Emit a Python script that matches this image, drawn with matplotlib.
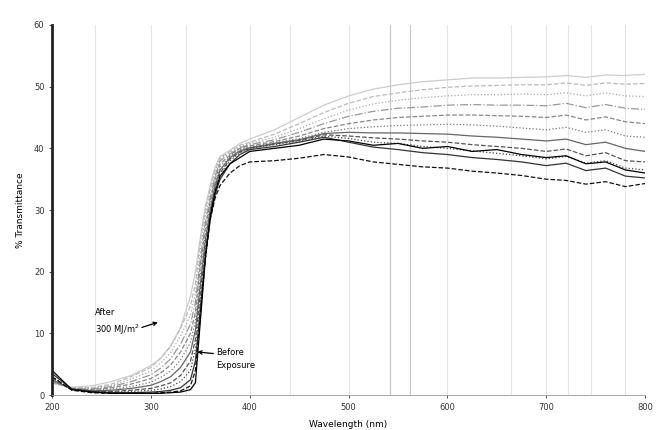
import numpy as np
from matplotlib import pyplot as plt

plt.rcParams['font.family'] = 'DejaVu Sans'

# wavelength grid (nm) shared by all spectra
wl = [200, 220, 240, 260, 280, 300, 310, 320, 330, 340, 345, 350, 355, 360, 365, 370, 380, 390,
      400, 425, 450, 475, 500, 525, 550, 575, 600, 625, 650, 675, 700, 720, 740, 760, 780, 800]

# % transmittance, before exposure first, then increasing exposure
t_before = [4.0, 0.9, 0.5, 0.3, 0.3, 0.3, 0.3, 0.4, 0.5, 0.9, 2.0, 12.0, 22.0, 29.0, 33.0, 35.5, 37.5, 38.5,
            39.5, 40.0, 40.5, 41.5, 41.2, 40.5, 40.8, 40.0, 40.3, 39.5, 39.8, 39.0, 38.5, 38.8, 37.5, 37.8, 36.5, 36.0]
t_1 = [3.0, 0.8, 0.4, 0.3, 0.3, 0.3, 0.4, 0.5, 0.7, 1.5, 4.0, 13.0, 22.0, 28.5, 32.0, 34.0, 36.0, 37.2,
       37.8, 38.0, 38.4, 39.0, 38.6, 37.8, 37.4, 37.0, 36.8, 36.3, 36.0, 35.6, 35.0, 34.8, 34.2, 34.6, 33.8, 34.3]
t_2 = [3.5, 1.0, 0.6, 0.4, 0.4, 0.5, 0.6, 0.8, 1.2, 2.5, 5.5, 14.0, 22.5, 28.5, 32.5, 35.0, 37.5, 39.0,
       39.8, 40.3, 41.0, 41.8, 41.0, 40.2, 39.8, 39.3, 39.0, 38.5, 38.2, 37.8, 37.2, 37.6, 36.4, 36.8, 35.5, 35.2]
t_3 = [3.0, 0.9, 0.6, 0.5, 0.6, 0.8, 1.0, 1.4, 2.2, 4.0, 7.5, 15.0, 23.0, 29.0, 33.0, 35.5, 38.0, 39.3,
       40.0, 40.6, 41.2, 42.0, 41.6, 41.0, 40.8, 40.3, 40.0, 39.6, 39.2, 38.8, 38.3, 38.7, 37.6, 38.0, 36.8, 36.5]
t_4 = [2.8, 0.9, 0.6, 0.6, 0.8, 1.1, 1.5, 2.0, 3.2, 5.5, 9.0, 16.5, 24.0, 29.5, 33.5, 36.0, 38.3, 39.4,
       40.0, 40.7, 41.3, 42.2, 42.0, 41.7, 41.5, 41.2, 41.0, 40.6, 40.3, 40.0, 39.5, 39.9, 38.8, 39.3, 38.0, 37.8]
t_5 = [2.5, 1.0, 0.7, 0.8, 1.1, 1.6, 2.2, 3.0, 4.5, 7.0, 10.5, 18.0, 25.0, 30.0, 34.0, 36.5, 38.5, 39.6,
       40.1, 40.8, 41.4, 42.4, 42.6, 42.5, 42.5, 42.4, 42.3, 42.0, 41.8, 41.5, 41.2, 41.5, 40.6, 41.0, 40.0, 39.5]
t_6 = [2.5, 1.0, 0.8, 1.0, 1.4, 2.1, 2.9, 3.9, 5.7, 8.5, 12.0, 19.5, 26.0, 31.0, 34.5, 37.0, 38.7, 39.8,
       40.2, 40.9, 41.6, 42.6, 43.2, 43.5, 43.7, 43.8, 43.9, 43.8, 43.6, 43.3, 43.0, 43.4, 42.6, 43.0, 42.0, 41.8]
t_7 = [2.3, 1.0, 0.9, 1.2, 1.8, 2.7, 3.6, 4.9, 7.0, 10.0, 13.5, 21.0, 27.0, 31.5, 35.0, 37.5, 38.9, 40.0,
       40.4, 41.1, 42.0, 43.2, 44.0, 44.6, 45.0, 45.2, 45.4, 45.4, 45.3, 45.2, 45.0, 45.4, 44.6, 45.1, 44.3, 44.0]
t_8 = [2.2, 1.1, 1.0, 1.4, 2.2, 3.3, 4.4, 5.9, 8.3, 11.5, 15.0, 22.0, 28.0, 32.0, 35.5, 38.0, 39.1, 40.1,
       40.6, 41.4, 42.6, 44.0, 45.2, 46.0, 46.5, 46.7, 47.0, 47.1, 47.0, 47.0, 46.9, 47.3, 46.6, 47.1, 46.5, 46.3]
t_9 = [2.0, 1.1, 1.1, 1.6, 2.6, 3.9, 5.2, 6.9, 9.6, 13.0, 16.5, 23.5, 29.0, 32.8, 36.0, 38.3, 39.3, 40.3,
       40.8, 41.8, 43.2, 44.8, 46.2, 47.2, 47.8, 48.2, 48.5, 48.7, 48.7, 48.8, 48.7, 49.0, 48.5, 49.0, 48.5, 48.4]
t_10 = [2.0, 1.2, 1.2, 1.8, 3.0, 4.5, 6.0, 7.9, 10.8, 14.5, 18.0, 25.0, 30.0, 33.5, 36.5, 38.5, 39.5, 40.5,
        41.0, 42.3, 44.0, 45.8, 47.3, 48.4, 49.0, 49.5, 49.9, 50.1, 50.2, 50.3, 50.3, 50.6, 50.2, 50.6, 50.4, 50.5]
t_11 = [2.0, 1.3, 1.5, 2.2, 3.2, 4.8, 6.0, 8.0, 11.0, 16.0, 20.0, 25.5, 30.5, 34.0, 37.0, 38.7, 39.7, 40.8,
        41.5, 43.0, 45.0, 47.0, 48.5, 49.6, 50.3, 50.8, 51.1, 51.4, 51.4, 51.5, 51.6, 51.8, 51.5, 51.9, 51.8, 52.0]

spectra = [t_before, t_1, t_2, t_3, t_4, t_5, t_6, t_7, t_8, t_9, t_10, t_11]
shades = ['#000000', '#111111', '#333333', '#444444', '#555555', '#666666',
          '#777777', '#888888', '#999999', '#aaaaaa', '#bbbbbb', '#cccccc']
styles = ['-', '--', '-', ':', '--', '-', ':', '--', '-.', ':', '--', '-']

# faint vertical lines in the original figure
vlines = [243, 300, 335, 400, 441, 500, 600, 664, 700, 722, 745, 780]
vlines_dark = [542, 562]

fig = plt.figure(figsize=(6.59, 4.30), dpi=100)
ax = fig.add_axes([0.079, 0.081, 0.900, 0.861])

for v in vlines:
    ax.axvline(v, color='#e4e4e4', lw=0.8, zorder=0)
for v in vlines_dark:
    ax.axvline(v, color='#c8c8c8', lw=0.9, zorder=0)

for t, c, s in zip(spectra[::-1], shades[::-1], styles[::-1]):
    ax.plot(wl, t, color=c, ls=s, lw=0.9)

ax.set_xlim(200, 800)
ax.set_ylim(0, 60)
ax.set_xticks([200, 300, 400, 500, 600, 700, 800])
ax.set_yticks([0, 10, 20, 30, 40, 50, 60])
ax.tick_params(labelsize=6, length=2, width=0.6, colors='#333333')
ax.spines['top'].set_visible(False)
ax.spines['right'].set_visible(False)
ax.spines['left'].set_linewidth(2)
ax.spines['left'].set_color('#222222')
ax.spines['bottom'].set_linewidth(0.6)
ax.spines['bottom'].set_color('#999999')
ax.set_xlabel('Wavelength (nm)', fontsize=6.5, labelpad=6)
ax.set_ylabel('% Transmittance', fontsize=6.5, labelpad=6)

ax.annotate('After\n300 MJ/m$^2$', xy=(307, 11.8), xytext=(243, 11.8),
            fontsize=6, va='center', ha='left', linespacing=1.6,
            arrowprops=dict(arrowstyle='->', color='black', lw=0.9,
                            shrinkA=0, shrinkB=0, relpos=(1.0, 0.3)))
ax.annotate('Before\nExposure', xy=(347, 7.0), xytext=(366, 5.8),
            fontsize=6, va='center', ha='left', linespacing=1.6,
            arrowprops=dict(arrowstyle='->', color='black', lw=0.9,
                            shrinkA=0, shrinkB=0, relpos=(0.0, 0.75)))

plt.savefig('out.png', dpi=100)
